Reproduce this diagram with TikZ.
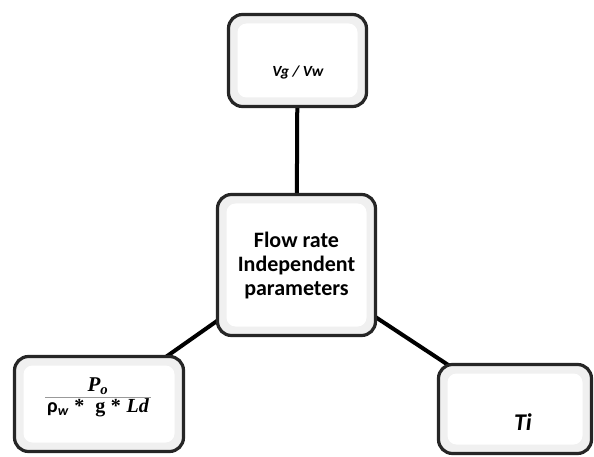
\documentclass[tikz,border=0pt]{standalone}
\usepackage{fontspec}
\setmainfont{Carlito}
\newfontfamily\serifb{Liberation Serif}
\usetikzlibrary{backgrounds}
\begin{document}
\begin{tikzpicture}[x=1pt,y=-1pt,
  box/.style={draw=black!85, line width=3.2pt, rounded corners=14pt, fill=gray!12, inner sep=0pt,
    path picture={\fill[white, rounded corners=9pt]
      ([shift={(9pt,-9pt)}]path picture bounding box.north west) rectangle
      ([shift={(-9pt,9pt)}]path picture bounding box.south east);}},
  conn/.style={line width=4pt, black},
  lbl/.style={inner sep=0pt, text=black}]
\useasboundingbox (0,0) rectangle (594,457);

\node[box, minimum width=138pt, minimum height=92pt] (top) at (297.5,60.5) {};
\node[box, minimum width=158pt, minimum height=141pt] (ctr) at (296.5,265) {};
\node[box, minimum width=169pt, minimum height=95pt] (lft) at (99,404) {};
\node[box, minimum width=153pt, minimum height=89pt] (rgt) at (515,409) {};

\begin{scope}[on background layer]
  \draw[conn] (top.center) -- (ctr.center);
  \draw[conn] (ctr.center) -- (lft.center);
  \draw[conn] (ctr.center) -- (rgt.center);
\end{scope}

\node[lbl, font=\fontsize{15.5}{18}\selectfont\bfseries\itshape] (ttop) at (298,72) {Vg / Vw};
\node[lbl, align=center, font=\fontsize{22}{24}\selectfont\bfseries] (tctr) at (296.5,266)
  {Flow rate\\Independent\\parameters};
\node[lbl, font=\fontsize{24}{26}\selectfont\bfseries\itshape] (trgt) at (523,422) {Ti};
\node[lbl, align=center] (tlft) at (98,397)
  {{\serifb\fontsize{21}{22}\selectfont\bfseries\itshape P\textsubscript{o}}\\[-3pt]
   {\color{gray!80}\rule[2pt]{106pt}{1.4pt}}\\[-3pt]
   {\fontsize{20}{22}\selectfont\bfseries ρ\textsubscript{\itshape w}\;{\serifb *}\;\;{\serifb g\;*\;\itshape Ld}}};
\end{tikzpicture}
\end{document}
